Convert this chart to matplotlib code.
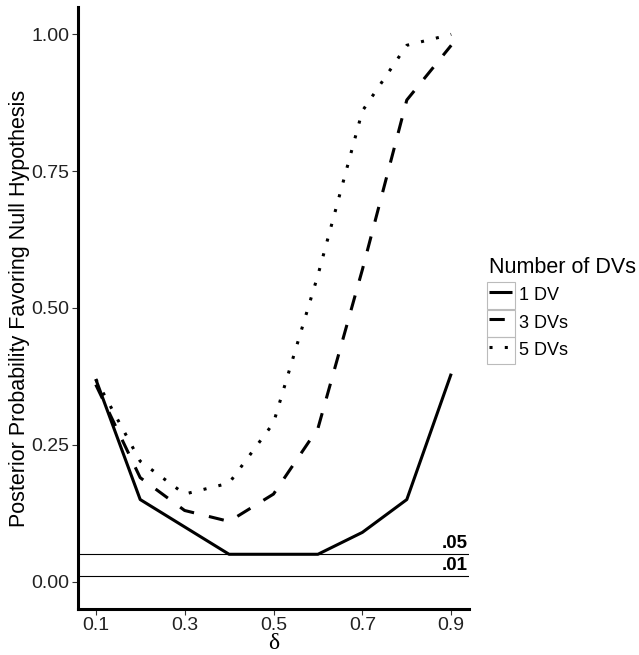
import matplotlib
matplotlib.use("Agg")
import matplotlib.pyplot as plt
from matplotlib.patches import Rectangle

plt.rcParams['font.family'] = ['Liberation Sans', 'DejaVu Sans']

# data
delta = [0.1, 0.2, 0.3, 0.4, 0.5, 0.6, 0.7, 0.8, 0.9]
dv1 = [0.37, 0.15, 0.10, 0.05, 0.05, 0.05, 0.09, 0.15, 0.38]
dv3 = [0.36, 0.19, 0.13, 0.11, 0.16, 0.28, 0.57, 0.88, 0.98]
dv5 = [0.37, 0.22, 0.16, 0.18, 0.29, 0.56, 0.86, 0.98, 1.00]
series_labels = ["1 DV", "3 DVs", "5 DVs"]
cutoffs = [0.05, 0.01]
cutoff_labels = [".05", ".01"]
xticks = [0.1, 0.3, 0.5, 0.7, 0.9]
yticks = [0.00, 0.25, 0.50, 0.75, 1.00]

W, H = 639, 655
fig = plt.figure(figsize=(W / 100, H / 100), dpi=100)
ax = fig.add_axes([78 / W, 46 / H, (469 - 78) / W, (609 - 7) / H])

lw = 2.2
ax.plot(delta, dv1, color='black', lw=lw, solid_capstyle='butt', label=series_labels[0])
ax.plot(delta, dv3, color='black', lw=lw, dashes=(5, 5), dash_capstyle='butt', label=series_labels[1])
ax.plot(delta, dv5, color='black', lw=lw, dashes=(1, 4), dash_capstyle='butt', label=series_labels[2])

# reference lines with their labels
for c, lab in zip(cutoffs, cutoff_labels):
    ax.axhline(c, color='black', lw=0.8)
    ax.annotate(lab, xy=(1.0, c), xycoords=('axes fraction', 'data'),
                xytext=(-1, 1.5), textcoords='offset points',
                ha='right', va='bottom', fontsize=13.5, fontweight='bold')

ax.set_xlim(0.06, 0.94)
ax.set_ylim(-0.05, 1.05)
ax.set_xticks(xticks)
ax.set_xticklabels([f"{v:.1f}" for v in xticks])
ax.set_yticks(yticks)
ax.set_yticklabels([f"{v:.2f}" for v in yticks])

for s in ['top', 'right']:
    ax.spines[s].set_visible(False)
for s in ['left', 'bottom']:
    ax.spines[s].set_linewidth(2.2)
ax.tick_params(length=4, width=0.8, color='#333333', labelsize=14,
               labelcolor='#222222', pad=2)

ax.set_xlabel("δ", family=['Liberation Serif', 'DejaVu Serif'], fontsize=17, labelpad=-1)
ax.set_ylabel("Posterior Probability Favoring Null Hypothesis", fontsize=15.5, labelpad=1)

leg = ax.legend(loc='upper left', bbox_to_anchor=(489 / W, 1 - 257 / H),
                bbox_transform=fig.transFigure, frameon=False, borderpad=0,
                borderaxespad=0, alignment='left', fontsize=13,
                title="Number of DVs", title_fontsize=15.5,
                handlelength=1.3, handleheight=1.5, handletextpad=0.35,
                labelspacing=0.3)

# grey key boxes like the reference legend
fig.canvas.draw()
r = fig.canvas.get_renderer()
for t in leg.get_texts():
    bb = t.get_window_extent(r)
    cy = (bb.y0 + bb.y1) / 2
    x1 = bb.x0 - 4
    fig.patches.append(Rectangle(((x1 - 28) / W, (cy - 13.5) / H), 28 / W, 27 / H,
                                 transform=fig.transFigure, fill=False,
                                 edgecolor='#BBBBBB', lw=0.8))

fig.savefig("out.png", dpi=100)
